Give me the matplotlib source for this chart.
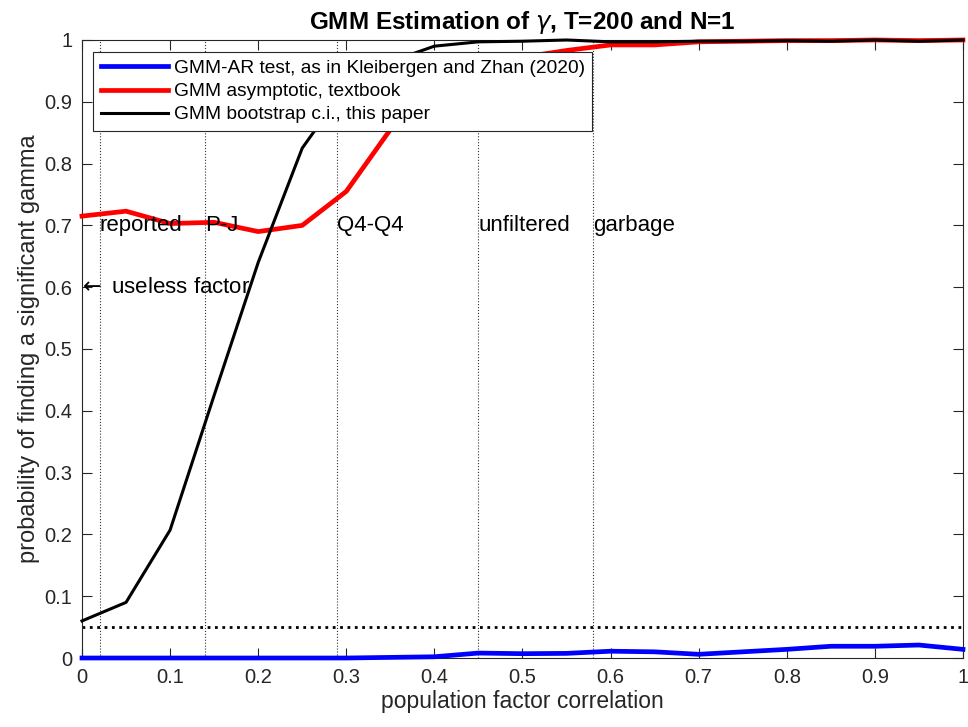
import numpy as np
import matplotlib
matplotlib.use("Agg")
import matplotlib.pyplot as plt

plt.rcParams['font.family'] = ['Liberation Sans', 'DejaVu Sans']

# population factor correlation grid
rho = [0.0, 0.05, 0.1, 0.15, 0.2, 0.25, 0.3, 0.35, 0.4, 0.45, 0.5,
       0.55, 0.6, 0.65, 0.7, 0.75, 0.8, 0.85, 0.9, 0.95, 1.0]
# rejection frequencies
p_ar = [0.0, 0.0, 0.0, 0.0, 0.0, 0.0, 0.0, 0.001, 0.002, 0.008, 0.007,
        0.0075, 0.011, 0.010, 0.006, 0.010, 0.014, 0.019, 0.019, 0.021, 0.014]
p_asy = [0.715, 0.723, 0.703, 0.705, 0.690, 0.700, 0.755, 0.855, 0.93, 0.96, 0.972,
         0.983, 0.992, 0.992, 0.997, 0.998, 0.999, 0.999, 1.0, 0.999, 1.0]
p_boot = [0.060, 0.090, 0.207, 0.425, 0.640, 0.825, 0.925, 0.965, 0.990, 0.997, 0.998,
          1.0, 0.997, 0.997, 0.998, 0.998, 0.999, 0.998, 1.0, 0.998, 1.0]
# empirical correlations of known factors
vlines = [0.02, 0.14, 0.29, 0.45, 0.58]
vnames = ['reported', 'P-J', 'Q4-Q4', 'unfiltered', 'garbage']
nominal = 0.05

fig = plt.figure(figsize=(9.68, 7.27), dpi=100)
ax = fig.add_axes([0.0847, 0.0949, 0.9101, 0.8501])

l1, = ax.plot(rho, p_ar, color='blue', lw=3.4, clip_on=False, zorder=3,
              label='GMM-AR test, as in Kleibergen and Zhan (2020)')
l2, = ax.plot(rho, p_asy, color='red', lw=3.4, clip_on=False, zorder=3,
              label='GMM asymptotic, textbook')
l3, = ax.plot(rho, p_boot, color='black', lw=2.2, clip_on=False, zorder=3,
              label='GMM bootstrap c.i., this paper')
ax.axhline(nominal, color='black', ls=':', lw=2.0)
for v, s in zip(vlines, vnames):
    ax.axvline(v, color='#333333', ls=':', lw=0.8)
    ax.text(v, 0.70, s, fontsize=16, va='center', ha='left')
ax.text(-0.005, 0.6, r'$\leftarrow$ useless factor', fontsize=16, va='center', ha='left')

ax.set_xlim(0, 1)
ax.set_ylim(0, 1)
ax.set_xticks(np.arange(0, 1.01, 0.1))
ax.set_yticks(np.arange(0, 1.01, 0.1))
ax.set_xticklabels(['0'] + ['%.1f' % t for t in np.arange(0.1, 0.95, 0.1)] + ['1'])
ax.set_yticklabels(['0'] + ['%.1f' % t for t in np.arange(0.1, 0.95, 0.1)] + ['1'])
ax.tick_params(direction='in', length=7, width=0.8, top=True, right=True,
               labelsize=14.5, colors='#262626', pad=7)
for sp in ax.spines.values():
    sp.set_color('#262626')
    sp.set_linewidth(0.8)
ax.set_xlabel('population factor correlation', fontsize=16.5, color='#262626', labelpad=2)
ax.set_ylabel('probability of finding a significant gamma', fontsize=17, color='#262626', labelpad=3)
ax.set_title(r'GMM Estimation of $\gamma$, T=200 and N=1', fontsize=17.5, fontweight='bold', pad=8)

leg = ax.legend(handles=[l1, l2, l3], loc='upper left', bbox_to_anchor=(0.0125, 0.9806),
                fontsize=13.8, frameon=True, fancybox=False, framealpha=1, handlelength=3.5,
                borderaxespad=0, labelspacing=0.3, handletextpad=0.3, borderpad=0.4)
leg.get_frame().set_edgecolor('#262626')
leg.get_frame().set_linewidth(0.8)
leg.set_zorder(5)

fig.savefig('out.png', dpi=100)
